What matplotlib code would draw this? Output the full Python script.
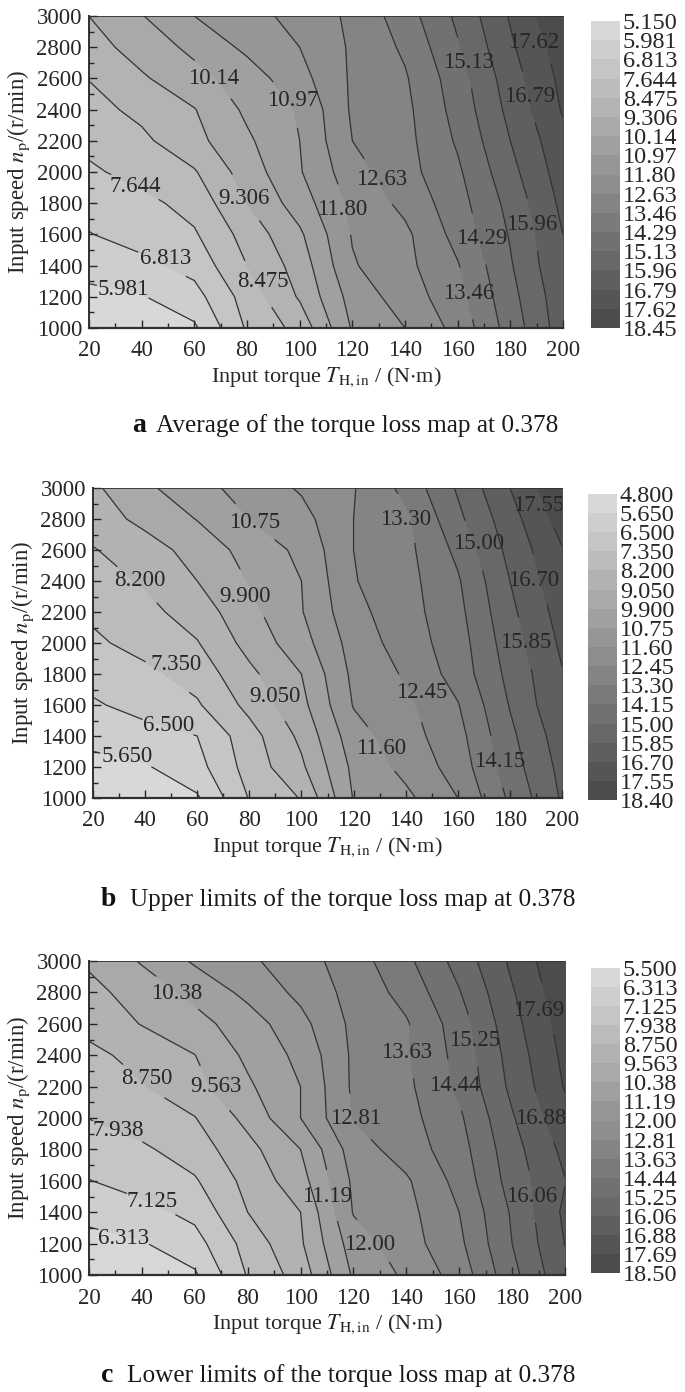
import matplotlib
matplotlib.use('Agg')
import matplotlib.pyplot as plt
import numpy as np
from matplotlib.colors import LinearSegmentedColormap
from matplotlib.ticker import MultipleLocator

plt.rcParams['font.family'] = ['Liberation Serif', 'DejaVu Serif']
plt.rcParams['mathtext.fontset'] = 'stix'

torque = [20, 40, 60, 80, 100, 120, 140, 160, 180, 200]
speed = [1000, 1200, 1400, 1600, 1800, 2000, 2200, 2400, 2600, 2800, 3000]

# rows go with speed, columns with torque
averageLoss = [
    [5.20, 5.50, 5.85, 7.75, 8.75, 11.05, 11.80, 12.90, 14.65, 16.40],
    [5.75, 5.93, 6.50, 8.00, 9.40, 11.30, 12.20, 13.15, 14.85, 16.50],
    [6.30, 6.60, 7.10, 8.475, 9.65, 11.72, 12.40, 13.40, 15.05, 16.70],
    [6.78, 7.15, 7.55, 8.80, 10.00, 11.86, 12.45, 13.75, 15.20, 16.79],
    [7.10, 7.40, 7.95, 9.30, 10.55, 12.00, 12.85, 13.95, 15.40, 17.00],
    [7.50, 7.95, 8.40, 9.70, 10.90, 12.30, 13.15, 14.15, 15.70, 17.20],
    [7.88, 8.30, 9.05, 10.00, 10.97, 12.63, 13.20, 14.40, 15.96, 17.40],
    [8.20, 8.68, 9.27, 10.30, 11.05, 12.75, 13.25, 14.60, 16.20, 17.70],
    [8.50, 9.20, 9.85, 10.55, 11.50, 12.75, 13.37, 14.75, 16.40, 17.85],
    [8.97, 9.65, 10.35, 11.15, 11.80, 12.75, 13.60, 15.05, 16.65, 18.05],
    [9.31, 10.10, 10.97, 11.50, 12.07, 12.80, 13.90, 15.30, 16.87, 18.40],
]
upperLoss = [
    [4.85, 5.20, 5.55, 7.40, 8.25, 10.80, 11.40, 12.45, 14.30, 15.95],
    [5.35, 5.57, 6.20, 7.70, 8.90, 10.95, 11.85, 12.80, 14.60, 16.10],
    [5.95, 6.20, 6.50, 7.85, 9.25, 11.25, 12.10, 13.00, 14.80, 16.30],
    [6.40, 6.80, 7.25, 8.45, 9.65, 11.65, 12.25, 13.25, 15.05, 16.60],
    [6.80, 7.15, 7.70, 8.85, 9.90, 11.80, 12.55, 13.65, 15.25, 16.65],
    [7.20, 7.65, 8.15, 9.35, 10.40, 11.95, 12.85, 13.75, 15.45, 16.85],
    [7.50, 7.95, 8.60, 9.65, 10.70, 12.20, 12.95, 13.90, 15.65, 17.05],
    [7.85, 8.30, 9.05, 9.95, 10.75, 12.40, 13.00, 14.05, 15.85, 17.30],
    [8.15, 8.65, 9.40, 10.20, 10.95, 12.45, 13.05, 14.35, 16.10, 17.50],
    [8.60, 9.30, 9.93, 10.75, 11.30, 12.45, 13.10, 14.80, 16.35, 17.90],
    [8.90, 9.73, 10.45, 11.10, 11.70, 12.40, 13.55, 15.10, 16.70, 18.30],
]
lowerLoss = [
    [5.55, 5.85, 6.20, 8.00, 9.10, 11.30, 12.15, 13.15, 15.00, 16.70],
    [6.05, 6.25, 6.80, 8.25, 9.45, 11.60, 12.45, 13.45, 15.25, 16.90],
    [6.55, 6.85, 7.35, 8.75, 9.56, 12.05, 12.55, 13.63, 15.35, 17.05],
    [7.10, 7.50, 7.85, 9.00, 10.05, 12.15, 12.70, 13.90, 15.60, 16.85],
    [7.55, 7.80, 8.35, 9.30, 10.38, 12.40, 13.20, 14.10, 15.75, 17.10],
    [7.95, 8.35, 8.72, 9.80, 11.19, 12.85, 13.35, 14.30, 15.98, 17.45],
    [8.30, 8.70, 9.30, 10.25, 11.19, 12.95, 13.45, 14.60, 16.25, 17.75],
    [8.55, 9.00, 9.55, 10.55, 11.40, 12.95, 13.55, 14.70, 16.40, 17.90],
    [9.00, 9.60, 10.10, 10.80, 11.75, 13.00, 13.55, 14.85, 16.60, 18.05],
    [9.30, 9.95, 10.60, 11.40, 12.20, 13.10, 13.90, 15.20, 16.80, 18.25],
    [9.70, 10.45, 11.30, 11.85, 12.45, 13.25, 14.25, 15.55, 17.05, 18.45],
]

averageTicks = ['5.150', '5.981', '6.813', '7.644', '8.475', '9.306', '10.14', '10.97', '11.80',
                '12.63', '13.46', '14.29', '15.13', '15.96', '16.79', '17.62', '18.45']
upperTicks = ['4.800', '5.650', '6.500', '7.350', '8.200', '9.050', '9.900', '10.75', '11.60',
              '12.45', '13.30', '14.15', '15.00', '15.85', '16.70', '17.55', '18.40']
lowerTicks = ['5.500', '6.313', '7.125', '7.938', '8.750', '9.563', '10.38', '11.19', '12.00',
              '12.81', '13.63', '14.44', '15.25', '16.06', '16.88', '17.69', '18.50']

# where the inline labels sit: text, torque, speed
averageLabels = [('5.981', 33, 1245), ('6.813', 49, 1448), ('7.644', 37.5, 1906), ('8.475', 86, 1298),
                 ('9.306', 79, 1831), ('10.14', 67.5, 2599), ('10.97', 97.5, 2460), ('11.80', 116, 1757),
                 ('12.63', 131, 1949), ('13.46', 164, 1224), ('14.29', 169, 1576), ('15.13', 164, 2705),
                 ('15.96', 188, 1661), ('16.79', 187.5, 2482), ('17.62', 189, 2833)]
upperLabels = [('5.650', 33, 1270), ('6.500', 49, 1470), ('7.350', 52, 1860), ('8.200', 38, 2400),
               ('9.050', 90, 1657), ('9.900', 78.5, 2300), ('10.75', 82, 2780), ('11.60', 130.6, 1317),
               ('12.45', 146, 1679), ('13.30', 140, 2800), ('14.15', 176, 1237), ('15.00', 168, 2640),
               ('15.85', 186, 2000), ('16.70', 189, 2400), ('17.55', 191, 2885)]
lowerLabels = [('6.313', 33, 1230), ('7.125', 44, 1470), ('7.938', 31, 1920), ('8.750', 42, 2250),
               ('9.563', 68, 2200), ('10.38', 53, 2790), ('11.19', 110, 1500), ('12.00', 126, 1194),
               ('12.81', 121, 1997), ('13.63', 140, 2420), ('14.44', 158.5, 2208), ('15.25', 166, 2493),
               ('16.06', 187.5, 1500), ('16.88', 191, 1997), ('17.69', 190, 2683)]

greyMap = LinearSegmentedColormap.from_list('lossGrey', ['#dcdcdc', '#484848'])
textColor = '#262626'
figW, figH = 685, 1392


def axesRect(left, right, top, bottom):
    return [left / figW, 1 - bottom / figH, (right - left) / figW, (bottom - top) / figH]


def drawPanel(fig, values, tickLabels, labels, axBox, barBox, letter, caption, letterX, textX, captionY):
    levels = [float(t) for t in tickLabels]
    z = np.array(values)
    ax = fig.add_axes(axesRect(*axBox))
    filled = ax.contourf(torque, speed, z, levels=levels, cmap=greyMap, extend='both')

    # one contour set per level, so each label lands on its own line
    for text, x, y in labels:
        line = ax.contour(torque, speed, z, levels=[float(text)], colors='#333333', linewidths=0.9)
        placed = ax.clabel(line, manual=[(x, y)], inline=True, inline_spacing=1,
                           fontsize=16.5, colors=textColor, fmt={float(text): text})
        for t in placed:
            t.set_rotation(0)
            t.set_position((x, y))

    ax.set_xlim(20, 200)
    ax.set_ylim(1000, 3000)
    ax.set_xticks(torque)
    ax.set_yticks(speed)
    ax.xaxis.set_minor_locator(MultipleLocator(10))
    ax.yaxis.set_minor_locator(MultipleLocator(100))
    ax.tick_params(which='major', direction='in', length=6, width=1, colors=textColor, labelsize=16.5, pad=5)
    ax.tick_params(which='minor', direction='in', length=3.5, width=1, colors=textColor)
    ax.tick_params(axis='x', which='major', pad=9)
    ax.set_xlabel(r'Input torque $T_{\mathrm{H,in}}$ / (N$\cdot$m)', fontsize=16, color=textColor, labelpad=3)
    ax.set_ylabel(r'Input speed $n_{\mathrm{p}}$/(r/min)', fontsize=16.5, color=textColor, labelpad=3)
    ax.spines['left'].set_linewidth(1.4)
    ax.spines['bottom'].set_linewidth(1.6)
    ax.spines['top'].set_linewidth(0.6)
    ax.spines['right'].set_linewidth(0.6)
    for side in ax.spines:
        ax.spines[side].set_color('#2f2f2f')

    cax = fig.add_axes(axesRect(*barBox))
    bar = fig.colorbar(filled, cax=cax, ticks=levels, drawedges=False, extendrect=False, extendfrac=0)
    bar.outline.set_visible(False)
    cax.invert_yaxis()
    cax.set_yticklabels(tickLabels)
    cax.tick_params(length=0, labelsize=17.5, labelcolor=textColor, pad=2)

    fig.text(letterX / figW, 1 - captionY / figH, letter, fontsize=20, fontweight='bold', color='#111111', va='center')
    fig.text(textX / figW, 1 - captionY / figH, caption, fontsize=18.2, color='#1a1a1a', va='center')


fig = plt.figure(figsize=(figW / 100, figH / 100), dpi=100)
drawPanel(fig, averageLoss, averageTicks, averageLabels, (89, 563, 16, 328), (591, 620, 21, 328),
          'a', 'Average of the torque loss map at 0.378', 132, 156, 426)
drawPanel(fig, upperLoss, upperTicks, upperLabels, (93, 562, 488, 798), (588, 617, 494, 800),
          'b', 'Upper limits of the torque loss map at 0.378', 101, 130, 900)
drawPanel(fig, lowerLoss, lowerTicks, lowerLabels, (89, 565, 961, 1275), (591, 620, 968, 1273),
          'c', 'Lower limits of the torque loss map at 0.378', 101, 127, 1376)
fig.savefig('out.png', dpi=100)
